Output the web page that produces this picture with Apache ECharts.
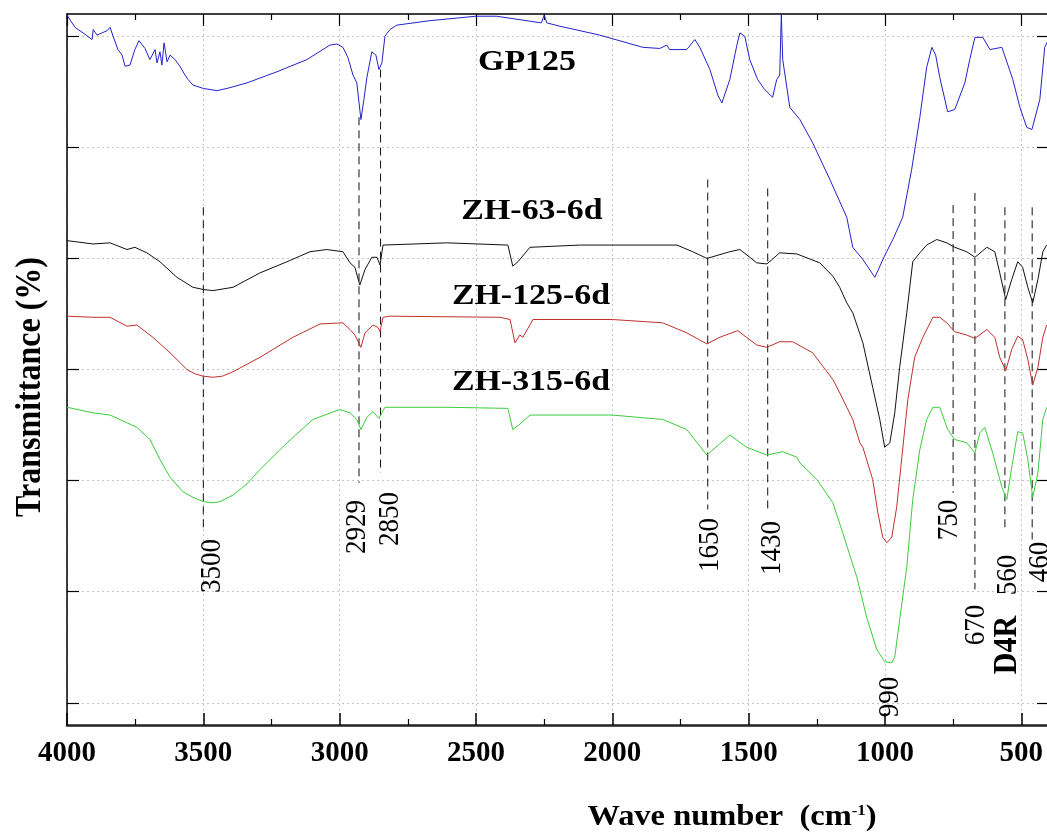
<!DOCTYPE html>
<html><head><meta charset="utf-8">
<script src="https://cdn.jsdelivr.net/npm/echarts@6/dist/echarts.min.js"></script>
<style>html,body{margin:0;padding:0;background:#fff}#c{width:1047px;height:832px}</style>
</head><body><div id="c"></div>
<script>
// ---- data (wavenumber cm-1, transmittance in arbitrary offset units) ----
const gpWn = [4000,3971,3941,3908,3904,3890,3853,3842,3831,3813,3798,3787,3769,3751,3736,3714,3696,3677,3670,3659,3652,3644,3633,3622,3604,3586,3567,3556,3538,3500,3450,3413,3340,3230,3120,3036,3010,2988,2970,2951,2937,2922,2911,2900,2882,2867,2856,2845,2834,2816,2790,2669,2500,2425,2260,2250,2240,2192,2046,1888,1826,1800,1790,1727,1697,1679,1642,1613,1598,1569,1543,1532,1514,1496,1467,1441,1412,1397,1386,1380,1375,1349,1312,1265,1202,1140,1118,1081,1037,1000,971,935,902,872,847,828,814,799,770,744,707,689,670,641,615,571,531,505,480,461,432,414,400];
const gpT  = [6.19,6.08,6.03,5.97,6.06,6.01,6.05,6.08,6.00,5.88,5.83,5.73,5.74,5.88,5.96,5.89,5.79,5.88,5.76,5.86,5.74,5.94,5.77,5.83,5.79,5.73,5.65,5.61,5.56,5.53,5.51,5.53,5.58,5.68,5.79,5.92,5.93,5.90,5.81,5.65,5.58,5.25,5.43,5.63,5.86,5.83,5.70,5.76,6.00,6.06,6.10,6.14,6.18,6.18,6.12,6.19,6.12,6.09,6.01,5.90,5.89,5.92,5.88,5.88,5.97,5.90,5.70,5.47,5.40,5.61,5.92,6.03,6.00,5.79,5.61,5.52,5.45,5.61,5.65,6.20,5.79,5.36,5.25,5.04,4.71,4.37,4.10,3.99,3.83,4.03,4.17,4.37,4.80,5.27,5.72,5.90,5.83,5.63,5.32,5.34,5.58,5.79,5.99,5.99,5.88,5.90,5.61,5.36,5.18,5.16,5.43,5.90,5.97];

const zh63Wn = [4000,3905,3842,3780,3751,3707,3659,3597,3538,3500,3465,3391,3292,3193,3109,3047,2988,2962,2944,2926,2907,2882,2863,2852,2841,2607,2383,2365,2346,2302,2119,1763,1705,1653,1569,1532,1470,1433,1386,1323,1239,1191,1166,1140,1118,1081,1045,1019,1001,982,964,946,920,898,872,847,810,773,744,700,670,626,597,579,557,535,513,495,476,458,439,421,407];
const zh63T  = [4.16,4.13,4.14,4.08,4.10,4.05,3.97,3.83,3.74,3.72,3.71,3.74,3.87,3.97,4.06,4.08,4.06,3.96,3.92,3.76,3.90,4.01,4.01,3.94,4.12,4.14,4.12,3.93,3.97,4.10,4.12,4.12,4.06,4.00,4.06,4.08,3.96,3.95,4.05,4.04,3.96,3.84,3.74,3.60,3.51,3.24,2.84,2.55,2.30,2.34,2.61,3.02,3.51,3.97,4.05,4.12,4.17,4.14,4.10,4.06,4.01,4.10,4.06,3.87,3.63,3.81,3.97,3.92,3.74,3.60,3.81,4.06,4.12];

const zh125Wn = [4000,3905,3842,3780,3744,3685,3622,3560,3530,3500,3465,3430,3391,3292,3171,3072,2988,2962,2944,2922,2907,2878,2860,2852,2841,2816,2412,2375,2357,2339,2328,2291,2000,1815,1727,1653,1606,1540,1470,1433,1386,1338,1265,1191,1166,1140,1118,1092,1081,1045,1026,1008,993,975,957,938,916,891,861,824,799,773,744,700,670,626,597,579,557,535,513,495,476,458,439,421,407];
const zh125T  = [3.48,3.47,3.47,3.39,3.40,3.29,3.15,3.00,2.96,2.94,2.93,2.94,2.98,3.11,3.29,3.41,3.42,3.36,3.31,3.20,3.33,3.40,3.38,3.34,3.47,3.48,3.47,3.45,3.24,3.31,3.29,3.45,3.45,3.42,3.33,3.23,3.29,3.35,3.22,3.20,3.25,3.25,3.15,2.91,2.79,2.66,2.55,2.34,2.30,2.01,1.71,1.49,1.44,1.49,1.76,2.21,2.73,3.11,3.29,3.47,3.47,3.42,3.34,3.31,3.28,3.36,3.29,3.11,2.99,3.18,3.30,3.27,3.09,2.86,3.02,3.29,3.40];

const zh315Wn = [4000,3905,3842,3780,3744,3696,3659,3622,3575,3538,3500,3465,3439,3391,3340,3292,3193,3098,3000,2962,2937,2922,2900,2878,2856,2852,2834,2607,2383,2365,2343,2302,2000,1815,1727,1653,1569,1507,1433,1375,1323,1312,1250,1191,1155,1103,1067,1030,1001,975,964,946,920,898,872,847,824,799,770,744,700,670,652,634,605,571,553,535,513,495,476,458,439,421,407];
const zh315T  = [2.66,2.61,2.59,2.52,2.48,2.37,2.19,2.03,1.90,1.85,1.81,1.80,1.81,1.87,1.97,2.10,2.34,2.55,2.64,2.61,2.55,2.46,2.57,2.62,2.56,2.56,2.66,2.66,2.65,2.46,2.50,2.59,2.59,2.55,2.46,2.23,2.41,2.30,2.23,2.26,2.21,2.16,2.01,1.80,1.53,1.13,0.77,0.48,0.37,0.36,0.41,0.75,1.22,1.83,2.28,2.55,2.66,2.66,2.46,2.37,2.34,2.25,2.43,2.48,2.25,1.94,1.83,2.12,2.44,2.43,2.19,1.85,2.07,2.55,2.66];

// marked bands: dashed guide lines (wavenumber, top and bottom in y units)
const peakWn     = [3500, 2929, 2850, 1650, 1430, 750, 670, 560, 460];
const peakTop    = [4.46, 5.27, 5.70, 4.71, 4.63, 4.48, 4.59, 4.46, 4.46];
const peakBottom = [1.56, 1.98, 2.07, 1.74, 1.74, 1.89, 1.02, 1.56, 1.47];

const seriesNames = ['GP125', 'ZH-63-6d', 'ZH-125-6d', 'ZH-315-6d'];
const seriesColors = ['#2222cc', '#111111', '#c0302c', '#3ccc3c'];
const yTickValues = [0, 1, 2, 3, 4, 5, 6];
const xTickInterval = 500;

// ---- build ----
function zip(a, b) { return a.map((v, i) => [v, b[i]]); }
const curves = [zip(gpWn, gpT), zip(zh63Wn, zh63T), zip(zh125Wn, zh125T), zip(zh315Wn, zh315T)];

const FONT = 'Liberation Serif';
const series = curves.map((d, i) => ({
  name: seriesNames[i], type: 'line', data: d, showSymbol: false, symbol: 'none',
  lineStyle: { color: seriesColors[i], width: 1 }, silent: true, z: 3
}));
peakWn.forEach((w, i) => {
  series.push({
    type: 'line', data: [[w, peakTop[i]], [w, peakBottom[i]]], showSymbol: false, symbol: 'none',
    lineStyle: { color: '#111', width: 1, type: [8, 5] }, silent: true, z: 2
  });
});

function htext(t, x, y, size, bold) {
  return { type: 'text', x, y, scaleX: 1.13, z: 10,
    style: { text: t, fontFamily: FONT, fontSize: size, fontWeight: bold ? 'bold' : 'normal',
             fill: '#000', align: 'center', verticalAlign: 'middle' } };
}
function vtext(t, x, y, size, bold) {
  return { type: 'text', x, y, rotation: Math.PI / 2, scaleY: 1.12, z: 10,
    style: { text: t, fontFamily: FONT, fontSize: size, fontWeight: bold ? 'bold' : 'normal',
             fill: '#000', align: 'center', verticalAlign: 'middle' } };
}

const gridLeft = 67, gridTop = 14, gridW = 1090.6, gridH = 711;
const axisLineStyle = { color: '#000', width: 1.5 };

const option = {
  animation: false,
  backgroundColor: '#fff',
  grid: { left: gridLeft, top: gridTop, width: gridW, height: gridH, containLabel: false, outerBoundsMode: 'none' },
  xAxis: [
    { type: 'value', position: 'bottom', min: 0, max: 4000, interval: xTickInterval, inverse: true,
      axisLine: { onZero: false, lineStyle: { color: '#222', width: 2.5 } },
      axisTick: { inside: true, length: 12, lineStyle: { color: '#000', width: 1.5 } },
      minorTick: { show: true, splitNumber: 2, length: 6, lineStyle: { color: '#000', width: 1.2 } },
      axisLabel: { formatter: v => String(v), fontFamily: FONT, fontWeight: 'bold', fontSize: 29, color: '#000', margin: 14, hideOverlap: false },
      splitLine: { show: true, lineStyle: { color: '#c4c4c4', width: 1, type: [2, 3] } } },
    { type: 'value', position: 'top', min: 0, max: 4000, interval: xTickInterval, inverse: true,
      axisLine: { onZero: false, lineStyle: axisLineStyle },
      axisTick: { inside: true, length: 12, lineStyle: { color: '#000', width: 1.2 } },
      minorTick: { show: true, splitNumber: 2, length: 6, lineStyle: { color: '#000', width: 1.2 } },
      axisLabel: { show: false }, splitLine: { show: false } }
  ],
  yAxis: [
    { type: 'value', position: 'left', min: -0.2, max: 6.2,
      axisLine: { show: true, onZero: false, lineStyle: axisLineStyle },
      axisTick: { show: true, inside: true, length: 12, customValues: yTickValues, lineStyle: { color: '#000', width: 1.2 } },
      axisLabel: { show: false },
      splitLine: { show: true, lineStyle: { color: '#c4c4c4', width: 1, type: [2, 3] } } },
    { type: 'value', position: 'right', offset: -(gridLeft + gridW - 1049), min: -0.2, max: 6.2,
      axisLine: { show: true, onZero: false, lineStyle: axisLineStyle },
      axisTick: { show: true, inside: true, length: 12, customValues: yTickValues, lineStyle: { color: '#000', width: 1.2 } },
      axisLabel: { show: false }, splitLine: { show: false } }
  ],
  series,
  graphic: { elements: [
    htext(seriesNames[0], 527, 62, 30, true),
    htext(seriesNames[1], 532, 211, 30, true),
    htext(seriesNames[2], 531, 296, 30, true),
    htext(seriesNames[3], 531, 382, 30, true),
    vtext('Transmittance (%)', 31, 387, 32, true),
    { type: 'text', x: 732, y: 818, scaleX: 1.12, z: 10,
      style: { text: '{a|Wave number  (cm}{s|-1}{a|)}', align: 'center', verticalAlign: 'middle',
        rich: { a: { fontFamily: FONT, fontWeight: 'bold', fontSize: 29, fill: '#000' },
                s: { fontFamily: FONT, fontWeight: 'bold', fontSize: 15, fill: '#000', verticalAlign: 'top' } } } },
    vtext('3500', 212, 566, 27, false),
    vtext('2929', 357, 527, 27, false),
    vtext('2850', 390, 519, 27, false),
    vtext('1650', 710, 545, 27, false),
    vtext('1430', 772, 548, 27, false),
    vtext('750', 949, 520, 27, false),
    vtext('670', 976, 625, 27, false),
    vtext('560', 1008, 575, 27, false),
    vtext('D4R', 1007, 645, 30, true),
    vtext('460', 1040, 562, 27, false),
    vtext('990', 890, 697, 27, false)
  ] }
};

const chart = echarts.init(document.getElementById('c'), null, { renderer: 'canvas' });
chart.setOption(option);
</script>
</body></html>
